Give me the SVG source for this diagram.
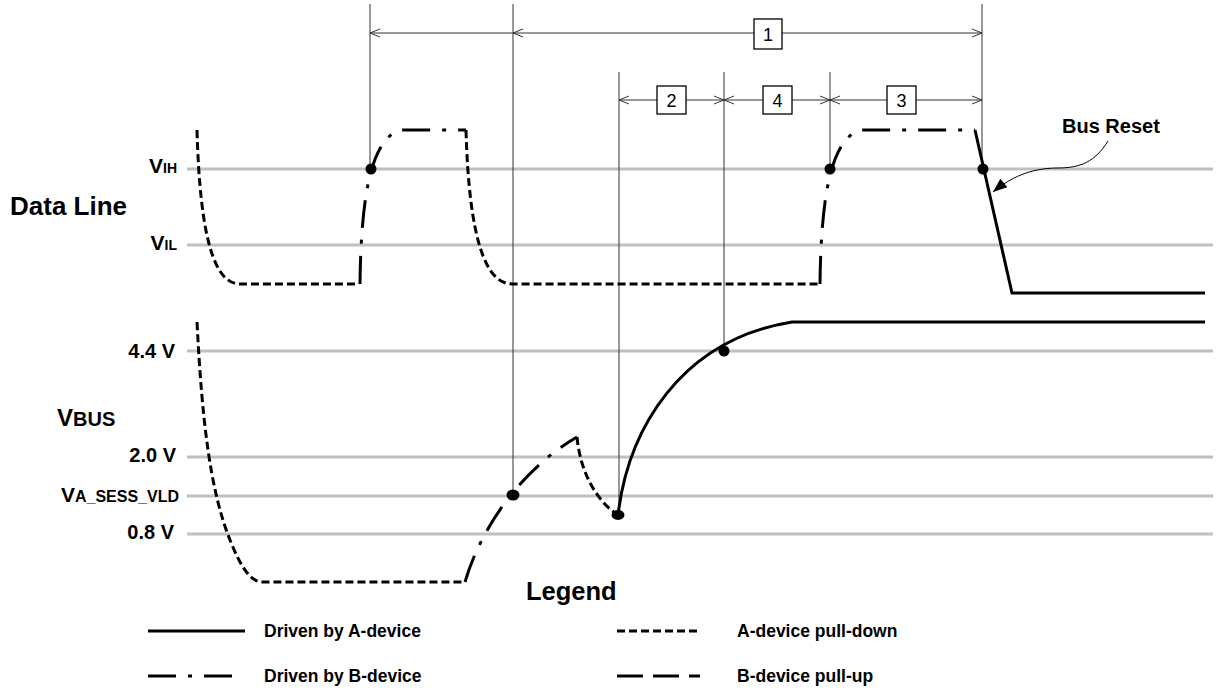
<svg xmlns="http://www.w3.org/2000/svg" width="1219" height="696" viewBox="0 0 1219 696">
<style>
.bg{fill:#fff}
.grid{stroke:#c0c0c0;stroke-width:3;fill:none}
.thin{stroke:#333;stroke-width:1;fill:none}
.dim{stroke:#333;stroke-width:1;fill:none;marker-start:url(#oa);marker-end:url(#oa)}
.sig{stroke:#000;stroke-width:3;fill:none}
.pd{stroke-dasharray:8 4}
.bd{stroke-dasharray:28 12 4 12}
.pu{stroke-dasharray:26 10}
.lbl{font-family:"Liberation Sans",Arial,sans-serif;font-weight:bold;fill:#000}
.num{font-family:"Liberation Sans",Arial,sans-serif;font-size:18px;fill:#000;text-anchor:middle}
.box{fill:#fff;stroke:#000;stroke-width:1.3}
.dot{fill:#000}
</style>
<defs>
<marker id="oa" markerUnits="userSpaceOnUse" markerWidth="14" markerHeight="12" viewBox="-12 -6 14 12" refX="0" refY="0" orient="auto-start-reverse" overflow="visible">
<path d="M-10,-4 L0,0 L-10,4" fill="none" stroke="#333" stroke-width="1"/>
</marker>
<marker id="fa" markerUnits="userSpaceOnUse" markerWidth="16" markerHeight="12" viewBox="-15 -6 16 12" refX="0" refY="0" orient="auto" overflow="visible">
<path d="M-14,-5.5 L0,0 L-14,5.5 z" fill="#000"/>
</marker>
</defs>
<rect class="bg" x="0" y="0" width="1219" height="696"/>

<g id="grid-lines">
<line class="grid" x1="187" y1="169" x2="1213" y2="169"/>
<line class="grid" x1="187" y1="245" x2="1213" y2="245"/>
<line class="grid" x1="187" y1="351" x2="1213" y2="351"/>
<line class="grid" x1="187" y1="457" x2="1213" y2="457"/>
<line class="grid" x1="187" y1="496" x2="1213" y2="496"/>
<line class="grid" x1="187" y1="534" x2="1213" y2="534"/>
</g>

<g id="axis-labels">
<text class="lbl" x="10" y="215" font-size="26">Data Line</text>
<text class="lbl" x="177" y="173" text-anchor="end"><tspan font-size="21">V</tspan><tspan font-size="14">IH</tspan></text>
<text class="lbl" x="177" y="250" text-anchor="end"><tspan font-size="21">V</tspan><tspan font-size="14">IL</tspan></text>
<text class="lbl" x="175" y="358" text-anchor="end" font-size="20">4.4 V</text>
<text class="lbl" x="57" y="426"><tspan font-size="24">V</tspan><tspan font-size="20">BUS</tspan></text>
<text class="lbl" x="176" y="462" text-anchor="end" font-size="20">2.0 V</text>
<text class="lbl" x="179" y="502" text-anchor="end"><tspan font-size="21">V</tspan><tspan font-size="16">A_SESS_VLD</tspan></text>
<text class="lbl" x="174" y="539" text-anchor="end" font-size="20">0.8 V</text>
</g>

<g id="connectors">
<line class="thin" x1="370" y1="4" x2="370" y2="169"/>
<line class="thin" x1="513" y1="4" x2="513" y2="495"/>
<line class="thin" x1="982" y1="4" x2="982" y2="169"/>
<line class="thin" x1="619" y1="72" x2="619" y2="515"/>
<line class="thin" x1="724" y1="72" x2="724" y2="351"/>
<line class="thin" x1="830" y1="72" x2="830" y2="169"/>
<line class="thin" x1="370" y1="33" x2="513" y2="33" style="marker-start:url(#oa)"/>
<line class="dim" x1="513" y1="33" x2="982" y2="33"/>
<line class="dim" x1="619" y1="100" x2="724" y2="100"/>
<line class="dim" x1="724" y1="100" x2="830" y2="100"/>
<line class="dim" x1="830" y1="100" x2="982" y2="100"/>
<path d="M1108,141 C1095,162 1080,168 1058,168 C1030,168 1010,178 993,192" fill="none" stroke="#000" stroke-width="1" marker-end="url(#fa)"/>
</g>

<g id="interval-1"><rect class="box" x="754" y="19" width="28" height="30"/><text class="num" x="768" y="41">1</text></g>
<g id="interval-2"><rect class="box" x="657" y="86" width="29" height="28"/><text class="num" x="671.5" y="107">2</text></g>
<g id="interval-4"><rect class="box" x="763" y="86" width="29" height="28"/><text class="num" x="777.5" y="107">4</text></g>
<g id="interval-3"><rect class="box" x="887" y="86" width="29" height="28"/><text class="num" x="901.5" y="107">3</text></g>

<g id="data-line">
<path class="sig pd" d="M197,130 C200,240 215,284 240,284 L358,284"/>
<path class="sig bd" d="M360,284 C361,200 370,140 400,130 L466,130"/>
<path class="sig pd" d="M466,130 C469,240 486,284 512,284 L820,284"/>
<path class="sig bd" d="M820,284 C821,200 830,140 860,130 L975,130"/>
<path class="sig" d="M975,130 L1012,293 L1205,293"/>
<circle class="dot" cx="371" cy="169" r="5.5"/>
<circle class="dot" cx="830" cy="169" r="5.5"/>
<circle class="dot" cx="983" cy="169" r="5.5"/>
</g>

<g id="bus-reset"><text class="lbl" x="1062" y="133" font-size="20">Bus Reset</text></g>

<g id="vbus">
<path class="sig pd" d="M197,322 C202,420 210,490 230,540 C240,565 250,582 262,582 L463,582"/>
<path class="sig bd" d="M465,582 C480,530 520,470 577,437"/>
<path class="sig pd" d="M577,437 C580,470 595,500 618,515"/>
<path class="sig" d="M618,515 C628,430 680,340 792,322 L1205,322"/>
<ellipse class="dot" cx="513" cy="495" rx="6.5" ry="5.5"/>
<ellipse class="dot" cx="618" cy="515" rx="6.5" ry="5"/>
<circle class="dot" cx="724" cy="351" r="5.5"/>
</g>

<g id="legend">
<text class="lbl" x="526" y="600" font-size="25.5">Legend</text>
<line class="sig" x1="148" y1="631" x2="245" y2="631"/>
<text class="lbl" x="264" y="637" font-size="17.5">Driven by A-device</text>
<line class="sig pd" x1="617" y1="631" x2="700" y2="631"/>
<text class="lbl" x="737" y="637" font-size="17.5">A-device pull-down</text>
<line class="sig bd" x1="148" y1="676" x2="232" y2="676"/>
<text class="lbl" x="264" y="682" font-size="17.5">Driven by B-device</text>
<line class="sig pu" x1="617" y1="676" x2="700" y2="676"/>
<text class="lbl" x="737" y="682" font-size="17.5">B-device pull-up</text>
</g>
</svg>
